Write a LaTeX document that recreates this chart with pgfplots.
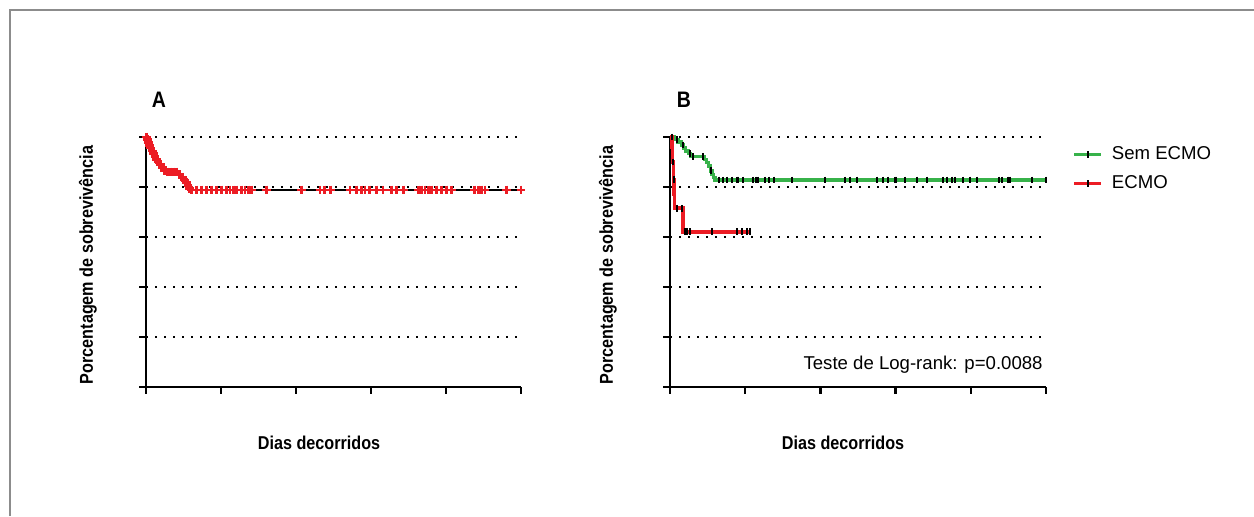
\documentclass[border=0pt]{standalone}
\usepackage{fontspec}
\setmainfont{Liberation Sans}
\newfontfamily\condfont{Liberation Sans}[FakeStretch=0.87]
\usepackage{pgfplots}
\pgfplotsset{compat=1.18}
\definecolor{kmgreen}{RGB}{55,178,74}
\definecolor{kmred}{RGB}{236,28,36}
\definecolor{framegray}{RGB}{140,140,140}

\newcommand{\txtfont}{\fontsize{9.3}{11}\selectfont}
\newcommand{\lblfont}{\condfont\bfseries\fontsize{9.3}{11}\selectfont}

\pgfplotsset{
  kmaxis/.style={
    scale only axis, width=187.5pt, height=125pt,
    xmin=0, xmax=100, ymin=0, ymax=100,
    axis lines=left, axis line style={-, line width=1.2pt},
    xtick={0,20,...,100}, ytick={0,20,...,100},
    xticklabels={}, yticklabels={},
    tick align=outside, major tick length=3.3pt,
    tick style={line width=1.2pt, black},
    ymajorgrids,
    grid style={line width=0.8pt, dash pattern=on 0.8pt off 3.7pt, black},
    clip=false, anchor=south west,
  },
  censB/.style={only marks, mark=|, mark size=1.7pt, black, mark options={line width=1pt}, forget plot},
}

\begin{document}
\begin{tikzpicture}
\path[use as bounding box] (0,0) rectangle (627pt,258pt);
\draw[framegray, line width=1pt] (5pt,0pt) -- (5pt,253pt) -- (627pt,253pt);

% ---------- A ----------
\begin{axis}[kmaxis, at={(73pt,64.5pt)}]
\addplot[const plot, black, line width=1.1pt] coordinates {
  (0,100) (0.3,98.9) (0.5,97.8) (0.8,96.7) (1.1,95.6) (1.5,94.4) (1.9,93.3)
  (2.2,92.2) (2.6,91.1) (3.0,90.0) (3.5,88.9) (4.2,87.8) (4.8,86.7) (5.2,86.0)
  (8.6,85.0) (9.5,83.9) (10.0,82.8) (10.5,81.7) (11.0,80.6) (11.4,79.5)
  (11.8,78.8) (100,78.8)};
\addplot[only marks, mark=+, mark size=2.2pt, kmred, mark options={line width=1.4pt}] coordinates {
  (0.1,100) (0.4,98.9) (0.7,97.8) (1.0,96.7) (1.3,95.6) (1.7,94.4) (2.0,93.3)
  (2.4,92.2) (2.8,91.1) (3.2,90.0) (3.8,88.9) (4.5,87.8) (5.0,86.7) (5.8,86.0)
  (6.6,86.0) (7.4,86.0) (8.2,86.0) (9.0,85.0) (9.8,83.9) (10.3,82.8) (10.8,81.7)
  (11.2,80.6) (11.6,79.5)
  (12.2,78.8) (13.5,78.8) (14.9,78.8) (16.2,78.8) (17.5,78.8) (18.8,78.8)
  (20.2,78.8) (21.5,78.8) (22.4,78.8) (23.3,78.8) (24.2,78.8) (25.5,78.8)
  (26.4,78.8) (27.3,78.8) (28.2,78.8) (32.2,78.8) (41.5,78.8) (46.4,78.8)
  (47.7,78.8) (49.1,78.8) (54.4,78.8) (56.2,78.8) (57.5,78.8) (58.4,78.8)
  (59.7,78.8) (61.5,78.8) (63.2,78.8) (65.5,78.8) (66.8,78.8) (68.6,78.8)
  (72.6,78.8) (73.5,78.8) (74.4,78.8) (75.3,78.8) (76.2,78.8) (77.5,78.8)
  (78.8,78.8) (80.2,78.8) (81.5,78.8) (87.7,78.8) (88.6,78.8) (89.5,78.8)
  (90.4,78.8) (96.2,78.8) (100,78.8)};
\end{axis}

% ---------- B ----------
\begin{axis}[kmaxis, at={(335pt,64.5pt)}, width=188pt,
  legend style={draw=none, fill=none, at={(1.069,0.872)}, anchor=west,
    inner sep=0pt, row sep=5.5pt, column sep=4.5pt, font=\txtfont,
    nodes={inner sep=0pt, text height=7pt, text depth=2pt}},
  legend cell align=left,
  legend image code/.code={
    \draw[#1] (0pt,0pt) -- (13.5pt,0pt);
    \draw[black, line width=1pt] (6.75pt,-1.7pt) -- (6.75pt,1.7pt);},
]
\addplot[const plot, kmgreen, line width=1.8pt, forget plot] coordinates {
  (0,100) (1.2,99.0) (2.2,97.9) (3.1,96.8) (3.6,95.7) (4.1,94.5) (4.9,93.4)
  (5.4,92.2) (9.2,91.0) (9.7,89.8) (10.2,88.3) (10.8,86.5) (11.2,85.0)
  (11.6,83.8) (12.0,82.8) (100,82.8)};
\addplot[const plot, kmred, line width=1.8pt, forget plot] coordinates {
  (0,100) (0.5,96) (0.7,90) (0.9,83) (1.1,77) (1.2,71.5) (3.5,62.1) (21.3,62.1)};
\addplot[censB] coordinates {
  (0.5,100) (1.8,99.0) (3.4,96.8) (5.2,93.4) (6.2,92.2) (8.7,92.2) (11.0,86.5)
  (12.9,82.8) (14.0,82.8) (15.1,82.8) (16.4,82.8) (17.7,82.8) (18.2,82.8)
  (19.5,82.8) (22.2,82.8) (22.9,82.8) (23.5,82.8) (25.3,82.8) (26.2,82.8)
  (27.7,82.8) (32.4,82.8) (41.2,82.8) (46.5,82.8) (47.9,82.8) (49.8,82.8)
  (55.0,82.8) (56.7,82.8) (58.0,82.8) (59.8,82.8) (60.2,82.8) (62.5,82.8)
  (65.6,82.8) (68.3,82.8) (72.7,82.8) (73.8,82.8) (74.9,82.8) (75.8,82.8)
  (78.0,82.8) (79.8,82.8) (81.6,82.8) (87.6,82.8) (88.2,82.8) (90.0,82.8)
  (90.4,82.8) (96.2,82.8) (100,82.8)};
\addplot[censB] coordinates {
  (0.8,90) (1.0,83) (1.8,71.5) (3.1,71.5)
  (4.0,62.1) (4.4,62.1) (5.3,62.1) (11.1,62.1) (17.7,62.1) (19.1,62.1)
  (20.4,62.1) (21.3,62.1)};
\addlegendimage{kmgreen, line width=1.8pt}
\addlegendentry{Sem ECMO}
\addlegendimage{kmred, line width=1.8pt}
\addlegendentry{ECMO}
\end{axis}

% ---------- texts ----------
\node[font=\condfont\bfseries\fontsize{11.2}{13}\selectfont] at (79.5pt,208pt) {A};
\node[font=\condfont\bfseries\fontsize{11.2}{13}\selectfont] at (342pt,208pt) {B};
\node[font=\lblfont, rotate=90] at (44pt,125.5pt) {Porcentagem de sobrevivência};
\node[font=\lblfont, rotate=90] at (304pt,125.5pt) {Porcentagem de sobrevivência};
\node[font=\lblfont] at (159.5pt,36.5pt) {Dias decorridos};
\node[font=\lblfont] at (421.5pt,36.5pt) {Dias decorridos};
\node[font=\txtfont, anchor=east, inner sep=0pt] at (521.5pt,75.5pt) {Teste de Log-rank: p=0.0088};
\end{tikzpicture}
\end{document}
